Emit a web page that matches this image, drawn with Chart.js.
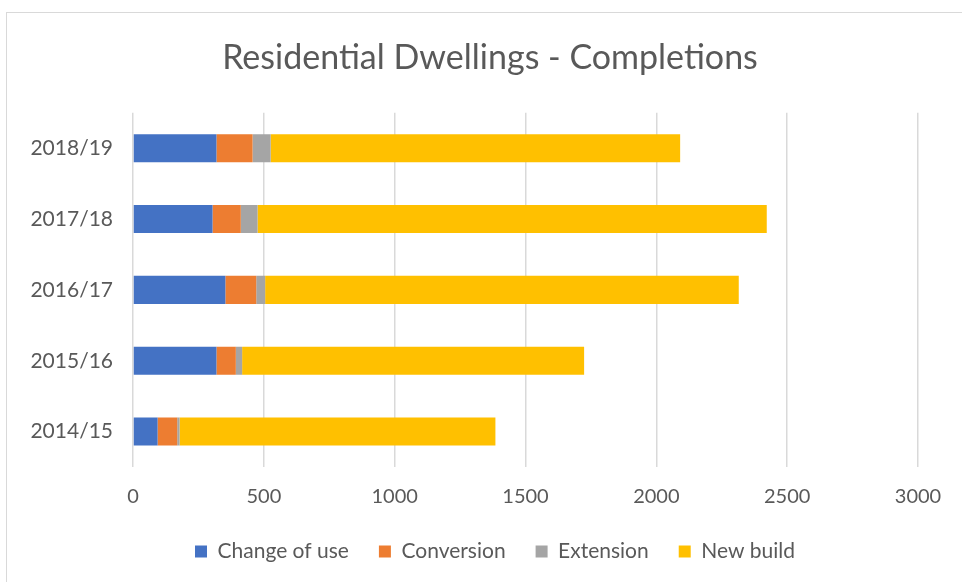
<!DOCTYPE html>
<html>
<head>
<meta charset="utf-8">
<script src="https://cdn.jsdelivr.net/npm/chart.js@4"></script>
<style>
  body { margin: 0; background: #fff; }
  #frame { position: absolute; left: 6px; top: 12px; width: 980px; height: 600px; border: 1px solid #d9d9d9; }
  #wrap { position: absolute; left: 0; top: 0; width: 962px; height: 582px; }
</style>
</head>
<body>
<div id="frame"></div>
<div id="wrap"><canvas id="myChart" width="962" height="582"></canvas></div>
<script>
// Data
const years = ['2018/19', '2017/18', '2016/17', '2015/16', '2014/15'];
const changeOfUse = [319, 304, 353, 319, 94];
const conversion = [138, 108, 118, 74, 75];
const extension = [69, 64, 34, 24, 9];
const newBuild = [1565, 1946, 1810, 1307, 1207];
const xTicks = [0, 500, 1000, 1500, 2000, 2500, 3000];

const ctx = document.getElementById('myChart');
const font = "Lato, 'Open Sans', sans-serif";
const grey = '#595959';

// Excel puts title + legend a little off the canvas centre
const nudge = {
  id: 'nudge',
  afterLayout: function (chart) {
    chart.legend.left += 26;
    chart.legend.right += 26;
    chart.legend.top -= 10;
    chart.legend.bottom -= 10;
    chart.titleBlock.left += 21;
    chart.titleBlock.right += 21;
  }
};

new Chart(ctx, {
  type: 'bar',
  data: {
    labels: years,
    datasets: [
      { label: 'Change of use', data: changeOfUse, backgroundColor: '#4472C4' },
      { label: 'Conversion', data: conversion, backgroundColor: '#ED7D31' },
      { label: 'Extension', data: extension, backgroundColor: '#A5A5A5' },
      { label: 'New build', data: newBuild, backgroundColor: '#FFC000' }
    ]
  },
  plugins: [nudge],
  options: {
    indexAxis: 'y',
    responsive: false,
    animation: false,
    barPercentage: 0.55,
    categoryPercentage: 0.72,
    layout: { padding: { left: 20, right: 44, top: 38, bottom: 0 } },
    plugins: {
      title: {
        display: true,
        text: 'Residential Dwellings - Completions',
        color: grey,
        font: { family: font, size: 34, weight: 'normal' },
        padding: { top: 0, bottom: 34 }
      },
      legend: {
        position: 'bottom',
        labels: {
          color: grey,
          font: { family: font, size: 21 },
          boxWidth: 12,
          boxHeight: 12,
          padding: 30
        }
      },
      tooltip: { enabled: false }
    },
    scales: {
      x: {
        stacked: true,
        min: 0,
        max: 3000,
        afterBuildTicks: function (s) { s.ticks = xTicks.map(v => ({ value: v })); },
        afterFit: function (s) { s.height -= 6; },
        grid: { color: '#d9d9d9', lineWidth: 1.5, drawTicks: false },
        border: { display: false },
        ticks: {
          color: grey,
          font: { family: font, size: 20 },
          padding: 18,
          callback: function (v) { return String(v); }
        }
      },
      y: {
        stacked: true,
        grid: { display: false },
        border: { display: false },
        afterFit: function (s) { s.width = 113; },
        ticks: { color: grey, font: { family: font, size: 21 }, padding: 12 }
      }
    }
  }
});
</script>
</body>
</html>
